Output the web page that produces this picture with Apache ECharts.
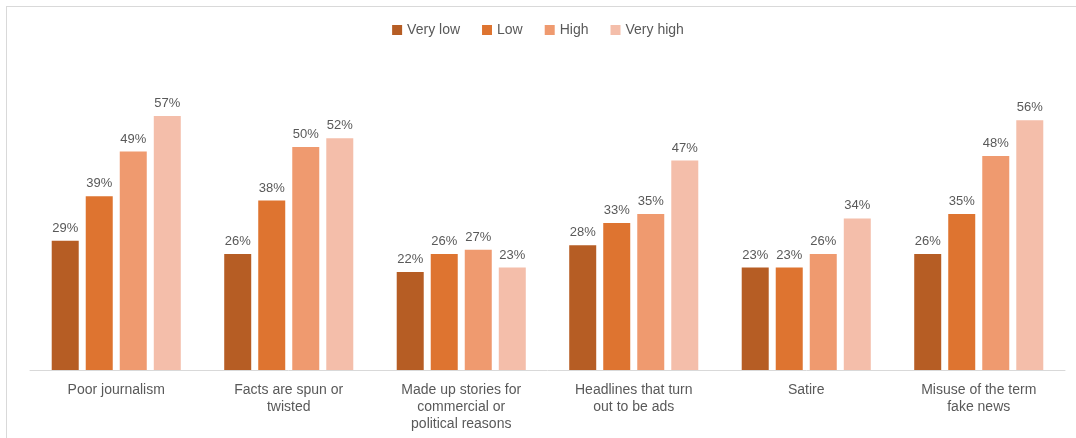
<!DOCTYPE html>
<html><head><meta charset="utf-8">
<script src="https://cdn.jsdelivr.net/npm/echarts@6/dist/echarts.min.js"></script>
<style>
html,body{margin:0;padding:0;background:#fff;}
#frame{position:absolute;left:6px;top:6px;width:1070px;height:432px;border-top:1.5px solid #d9d9d9;border-left:1.5px solid #d9d9d9;box-sizing:border-box;}
#c{position:absolute;left:0;top:0;width:1076px;height:438px;}
</style></head>
<body><div id="frame"></div><div id="c"></div>
<script>
const categories = ["Poor journalism", "Facts are spun or\ntwisted", "Made up stories for\ncommercial or\npolitical reasons", "Headlines that turn\nout to be ads", "Satire", "Misuse of the term\nfake news"];
const seriesNames = ["Very low", "Low", "High", "Very high"];
const veryLow = [29, 26, 22, 28, 23, 26];
const low = [39, 38, 26, 33, 23, 35];
const high = [49, 50, 27, 35, 26, 48];
const veryHigh = [57, 52, 23, 47, 34, 56];
const colors = ["#B65D24", "#DE7430", "#EF9A6F", "#F4BEAA"];
const values = [veryLow, low, high, veryHigh];

const chart = echarts.init(document.getElementById('c'), null, {renderer:'canvas'});
chart.setOption({
  animation:false,
  legend:{top:18, left:'center', itemWidth:10, itemHeight:10, itemGap:22, icon:'rect',
    textStyle:{color:'#595959', fontSize:14, fontFamily:'Liberation Sans'}},
  grid:{left:30, right:11, top:102.5, bottom:68},
  xAxis:{type:'category', data:categories,
    axisLine:{lineStyle:{color:'#d9d9d9', width:1}}, axisTick:{show:false},
    axisLabel:{color:'#595959', fontSize:14, fontFamily:'Liberation Sans', lineHeight:17, margin:12, interval:0}},
  yAxis:{type:'value', min:0, max:60, show:false, splitLine:{show:false}},
  series: seriesNames.map((n,i)=>({
    name:n, type:'bar', data:values[i], barWidth:27, barGap:'26%',
    itemStyle:{color:colors[i]},
    label:{show:true, position:'top', distance:6, formatter:'{c}%', color:'#595959', fontSize:13, fontFamily:'Liberation Sans'}
  }))
});
</script></body></html>
